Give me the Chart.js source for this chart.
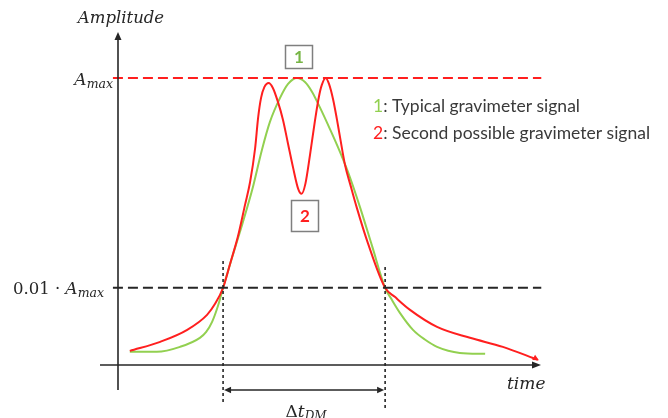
<!DOCTYPE html>
<html>
<head>
<meta charset="utf-8">
<script src="https://cdn.jsdelivr.net/npm/chart.js@4/dist/chart.umd.min.js"></script>
<style>
  html, body { margin: 0; padding: 0; background: #ffffff; }
  #wrap { width: 668px; height: 418px; }
</style>
</head>
<body>
<div id="wrap"><canvas id="chart" width="668" height="418"></canvas></div>
<script>
// Signal 1: typical gravimeter signal (time, amplitude relative to A_max)
const timeTypical = [2.8, 9.2, 14.7, 19.4, 20.9, 22.3, 23.7, 24.9, 27.0, 29.4, 31.8, 34.1, 36.0, 38.4, 40.3, 42.4, 44.3, 46.0, 47.9, 50.2, 52.6, 55.0, 57.4, 60.2, 63.3, 64.9, 66.8, 69.9, 72.8, 75.6, 81.0, 87.0];
const ampTypical  = [0.00246, 0.00246, 0.00274, 0.00334, 0.00381, 0.00474, 0.00674, 0.0100, 0.0193, 0.0398, 0.0858, 0.206, 0.381, 0.645, 0.877, 1.0, 0.916, 0.736, 0.518, 0.327, 0.197, 0.112, 0.0578, 0.0251, 0.0100, 0.00769, 0.00578, 0.00398, 0.00320, 0.00274, 0.00240, 0.00235];

// Signal 2: second possible gravimeter signal (double peak)
const timeSecond = [2.8, 10.0, 16.4, 21.1, 23.0, 24.9, 26.5, 28.4, 30.1, 31.3, 32.5, 33.2, 33.9, 34.7, 35.7, 36.7, 37.9, 39.1, 40.3, 41.5, 42.7, 43.5, 44.4, 45.5, 46.7, 47.6, 48.3, 49.2, 50.0, 51.0, 51.9, 52.6, 53.8, 55.2, 56.6, 59.2, 63.3, 65.6, 69.2, 75.6, 83.4, 91.2, 99.5];
const ampSecond  = [0.00251, 0.00306, 0.00398, 0.00553, 0.00704, 0.0100, 0.0166, 0.0306, 0.0617, 0.102, 0.215, 0.416, 0.645, 0.821, 0.896, 0.803, 0.591, 0.398, 0.235, 0.139, 0.0877, 0.0786, 0.0978, 0.185, 0.398, 0.659, 0.858, 1.0, 0.877, 0.617, 0.398, 0.274, 0.148, 0.0916, 0.0578, 0.0268, 0.0100, 0.00821, 0.00617, 0.00425, 0.00334, 0.00274, 0.00206];

// Reference levels and the time window between the 1 % crossings
const levelMax = 1.0;
const levelThreshold = 0.01;
const windowStart = 24.9;
const windowEnd = 63.3;
const refLineSpan = [-1.2, 100.3];

const GREEN = '#92d050';
const RED = '#ff1f1f';
const INK = '#262626';

const pairs = (xs, ys) => xs.map((x, i) => ({ x: x, y: ys[i] }));
const flat = (level) => refLineSpan.map(x => ({ x: x, y: level }));

function richText(ctx, parts, x, y, align) {
  let total = 0;
  parts.forEach(p => { ctx.font = p.font; total += ctx.measureText(p.t).width; });
  let cx = align === 'right' ? x - total : align === 'center' ? x - total / 2 : x;
  ctx.textBaseline = 'alphabetic';
  ctx.textAlign = 'left';
  parts.forEach(p => {
    ctx.font = p.font;
    ctx.fillStyle = p.color || INK;
    ctx.fillText(p.t, cx, y + (p.dy || 0));
    cx += ctx.measureText(p.t).width;
  });
}

function arrowHead(ctx, x, y, dir, len, half) {
  // dir: angle in radians of the pointing direction
  ctx.save();
  ctx.translate(x, y);
  ctx.rotate(dir);
  ctx.beginPath();
  ctx.moveTo(0, 0);
  ctx.lineTo(-len, -half);
  ctx.lineTo(-len, half);
  ctx.closePath();
  ctx.fill();
  ctx.restore();
}

const decorations = {
  id: 'decorations',
  afterDatasetsDraw(chart) {
    const ctx = chart.ctx;
    const xs = chart.scales.x;
    const ys = chart.scales.y;
    const area = chart.chartArea;
    const x0 = xs.getPixelForValue(0);
    const yBase = area.bottom - 1;

    ctx.save();
    ctx.strokeStyle = INK;
    ctx.fillStyle = INK;
    ctx.lineWidth = 1.6;
    ctx.setLineDash([]);

    // vertical amplitude axis
    ctx.beginPath();
    ctx.moveTo(x0, area.top + 6);
    ctx.lineTo(x0, 390);
    ctx.stroke();
    arrowHead(ctx, x0, area.top + 1, -Math.PI / 2, 8, 3.5);

    // horizontal time axis
    ctx.beginPath();
    ctx.moveTo(100, yBase);
    ctx.lineTo(area.right - 5, yBase);
    ctx.stroke();
    arrowHead(ctx, area.right + 1, yBase, 0, 9, 3.5);

    // dotted verticals at the 1 % crossings
    const xa = xs.getPixelForValue(windowStart);
    const xb = xs.getPixelForValue(windowEnd);
    ctx.lineWidth = 1.6;
    ctx.setLineDash([3, 3]);
    ctx.beginPath();
    ctx.moveTo(xa, 261); ctx.lineTo(xa, 404);
    ctx.moveTo(xb, 267); ctx.lineTo(xb, 408);
    ctx.stroke();
    ctx.setLineDash([]);

    // duration arrow
    ctx.lineWidth = 1.5;
    ctx.beginPath();
    ctx.moveTo(xa + 6, 390);
    ctx.lineTo(xb - 6, 390);
    ctx.stroke();
    arrowHead(ctx, xa + 1, 390, Math.PI, 7, 3.2);
    arrowHead(ctx, xb - 1, 390, 0, 7, 3.2);

    // small arrow tip at the end of signal 2
    ctx.fillStyle = RED;
    const n = timeSecond.length;
    const ex = xs.getPixelForValue(timeSecond[n - 1]);
    const ey = ys.getPixelForValue(ampSecond[n - 1]);
    const px = xs.getPixelForValue(timeSecond[n - 2]);
    const py = ys.getPixelForValue(ampSecond[n - 2]);
    arrowHead(ctx, ex + 1, ey + 0.5, Math.atan2(ey - py, ex - px) + 0.15, 6, 3);

    // axis titles and level labels
    const serifI = (s) => 'italic ' + s + 'px "DejaVu Serif"';
    const serif = (s) => s + 'px "DejaVu Serif"';
    richText(ctx, [{ t: 'Amplitude', font: serifI(16.5) }], x0 + 3, 23, 'center');
    richText(ctx, [{ t: 'time', font: serifI(17) }], 507, 389, 'left');
    const yMax = ys.getPixelForValue(levelMax);
    const yThr = ys.getPixelForValue(levelThreshold);
    richText(ctx, [
      { t: 'A', font: serifI(17) },
      { t: 'max', font: serifI(12.5), dy: 3 }
    ], 113, yMax + 7, 'right');
    richText(ctx, [
      { t: '0.01 \u00b7 ', font: serif(16.5) },
      { t: 'A', font: serifI(17) },
      { t: 'max', font: serifI(12.5), dy: 3 }
    ], 104, yThr + 6, 'right');
    richText(ctx, [
      { t: '\u0394', font: serif(17) },
      { t: 't', font: serifI(17) },
      { t: 'DM', font: serifI(12), dy: 3 }
    ], (xa + xb) / 2 + 2, 417, 'center');

    // numbered boxes
    ctx.strokeStyle = '#7f7f7f';
    ctx.lineWidth = 1.5;
    ctx.strokeRect(285.5, 45.5, 27, 23);
    ctx.strokeRect(291.5, 200.5, 27, 31);
    ctx.textAlign = 'center';
    ctx.textBaseline = 'middle';
    ctx.font = 'bold 17px Lato';
    ctx.fillStyle = '#77b545';
    ctx.fillText('1', 299, 58);
    ctx.fillStyle = RED;
    ctx.fillText('2', 305, 217);

    // legend text
    const sans = '17.5px Lato';
    richText(ctx, [
      { t: '1', font: sans, color: GREEN },
      { t: ': Typical gravimeter signal', font: sans, color: '#3a3a3a' }
    ], 373, 112, 'left');
    richText(ctx, [
      { t: '2', font: sans, color: RED },
      { t: ': Second possible gravimeter signal', font: sans, color: '#3a3a3a' }
    ], 373, 139, 'left');
    ctx.restore();
  }
};

new Chart(document.getElementById('chart'), {
  type: 'line',
  data: {
    datasets: [
      {
        label: 'A_max',
        data: flat(levelMax),
        borderColor: RED,
        borderWidth: 2,
        borderDash: [10, 5],
        pointRadius: 0,
        clip: false
      },
      {
        label: '0.01 A_max',
        data: flat(levelThreshold),
        borderColor: INK,
        borderWidth: 2,
        borderDash: [10, 5],
        pointRadius: 0,
        clip: false
      },
      {
        label: 'Second possible gravimeter signal',
        data: pairs(timeSecond, ampSecond),
        borderColor: RED,
        borderWidth: 2,
        pointRadius: 0,
        cubicInterpolationMode: 'monotone',
        clip: false
      },
      {
        label: 'Typical gravimeter signal',
        data: pairs(timeTypical, ampTypical),
        borderColor: GREEN,
        borderWidth: 2,
        pointRadius: 0,
        cubicInterpolationMode: 'monotone',
        clip: false
      }
    ]
  },
  options: {
    responsive: false,
    animation: false,
    devicePixelRatio: 1,
    layout: { padding: { left: 118, right: 128, top: 31, bottom: 52 } },
    plugins: { legend: { display: false }, tooltip: { enabled: false } },
    scales: {
      x: { type: 'linear', min: 0, max: 100, display: false },
      y: { type: 'logarithmic', min: 0.0018, max: 2.8, display: false }
    }
  },
  plugins: [decorations]
});
</script>
</body>
</html>
